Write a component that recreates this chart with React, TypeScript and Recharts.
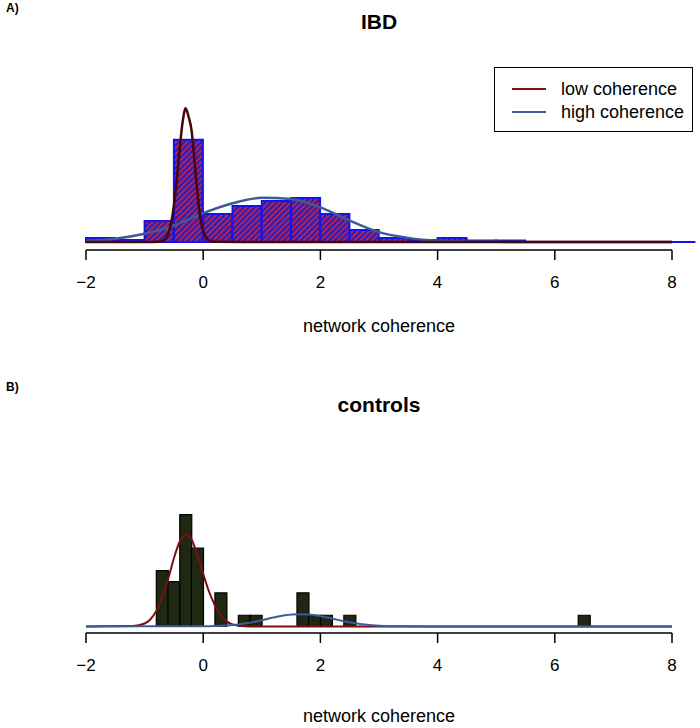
import React from "react";
import { ComposedChart, Bar, Line, XAxis, YAxis, ReferenceLine } from "recharts";

// panel A: IBD histogram (density, bins of 0.5)
const IBD_BIN_LEFT = [-2, -1.5, -1, -0.5, 0, 0.5, 1, 1.5, 2, 2.5, 3, 3.5, 4, 4.5, 5, 5.5, 6, 6.5, 7, 7.5];
const IBD_DENSITY = [0.024, 0.012, 0.127, 0.62, 0.17, 0.218, 0.248, 0.267, 0.17, 0.073, 0.024, 0.012, 0.024, 0.009, 0.009, 0, 0, 0, 0, 0];

const IBD_LOW_X = [-2, -1, -0.75, -0.7, -0.65, -0.6, -0.55, -0.5, -0.45, -0.4, -0.35, -0.3, -0.25, -0.2, -0.15, -0.1, -0.05, 0, 0.05, 0.1, 0.2, 1, 8];
const IBD_LOW_Y = [0, 0, 0.002, 0.006, 0.018, 0.047, 0.11, 0.22, 0.38, 0.57, 0.73, 0.81, 0.76, 0.68, 0.5, 0.3, 0.15, 0.067, 0.027, 0.009, 0.001, 0, 0];
const IBD_HIGH_X = [-2, -1.5, -1, -0.5, 0, 0.5, 1, 1.5, 2, 2.5, 3, 3.5, 4, 4.5, 5, 6, 8];
const IBD_HIGH_Y = [0.006, 0.02, 0.05, 0.1, 0.175, 0.235, 0.268, 0.26, 0.21, 0.13, 0.06, 0.025, 0.008, 0.003, 0.001, 0, 0];

// panel B: controls histogram (counts, bins of 0.2)
const CTRL_BAR_LEFT = [-0.8, -0.6, -0.4, -0.2, 0.2, 0.6, 0.8, 1.6, 1.8, 2.0, 2.4, 6.4];
const CTRL_COUNTS = [5, 4, 10, 7, 3, 1, 1, 3, 1, 1, 1, 1];

const CTRL_LOW_X = [-2, -1.2, -1, -0.9, -0.8, -0.7, -0.6, -0.5, -0.4, -0.3, -0.2, -0.1, 0, 0.1, 0.2, 0.3, 0.4, 0.5, 0.6, 0.8, 8];
const CTRL_LOW_Y = [0, 0.03, 0.26, 0.64, 1.39, 2.6, 4.2, 6.1, 7.6, 8.25, 7.8, 6.4, 4.7, 3.1, 1.9, 1.0, 0.45, 0.18, 0.06, 0, 0];
const CTRL_HIGH_X = [-2, 0, 0.2, 0.4, 0.6, 0.8, 1, 1.2, 1.4, 1.6, 1.8, 2, 2.2, 2.4, 2.6, 2.8, 3, 3.2, 3.5, 4, 8];
const CTRL_HIGH_Y = [0, 0.015, 0.034, 0.084, 0.18, 0.33, 0.55, 0.79, 0.99, 1.09, 1.06, 0.92, 0.7, 0.47, 0.28, 0.14, 0.065, 0.025, 0.006, 0, 0];

const X_TICKS = [-2, 0, 2, 4, 6, 8];

const FONT = '"Liberation Sans", Arial, Helvetica, sans-serif';
const LOW_COLOR = "#7a1010";
const HIGH_COLOR = "#3a5d98";

const ibdBins = IBD_BIN_LEFT.map((b, i) => ({ bin: b, value: IBD_DENSITY[i] }));

// all 50 bins from -2 to 8, empty ones at 0
const ctrlBins = Array.from({ length: 50 }, (_, i) => {
  const left = Math.round((-2 + i * 0.2) * 10) / 10;
  const k = CTRL_BAR_LEFT.findIndex((b) => Math.abs(b - left) < 1e-6);
  return { bin: left, value: k >= 0 ? CTRL_COUNTS[k] : 0 };
});

const toPoints = (xs: number[], ys: number[]) => xs.map((x, i) => ({ x, y: ys[i] }));

function AxisTick(props: any) {
  const { x, y, payload } = props;
  const v = payload.value as number;
  const label = v < 0 ? `\u2212${Math.abs(v)}` : String(v);
  return (
    <text x={x} y={y} dy={26} textAnchor="middle" fontSize={17} fontFamily={FONT} fill="#000">
      {label}
    </text>
  );
}

function Label({ text, cx, cy, size, bold, left }: { text: string; cx?: number; cy: number; size: number; bold?: boolean; left?: number }) {
  return (
    <div
      style={{
        position: "absolute",
        top: cy - 12,
        left: left != null ? left : cx,
        transform: left != null ? undefined : "translateX(-50%)",
        lineHeight: "24px",
        fontSize: size,
        fontWeight: bold ? "bold" : "normal",
        fontFamily: FONT,
        whiteSpace: "nowrap",
        color: "#000",
      }}
    >
      {text}
    </div>
  );
}

function numAxis() {
  return (
    <XAxis
      xAxisId="num"
      type="number"
      dataKey="x"
      domain={[-2, 8]}
      ticks={X_TICKS}
      interval={0}
      allowDataOverflow
      height={60}
      tickSize={10}
      axisLine={{ stroke: "#000", strokeWidth: 1.5 }}
      tickLine={{ stroke: "#000", strokeWidth: 1.5 }}
      tick={<AxisTick />}
    />
  );
}

export default function App() {
  return (
    <div style={{ position: "absolute", left: 0, top: 0, width: 700, height: 728, background: "#fff", fontFamily: FONT }}>
      <Label text="A)" left={6} cy={8} size={12} bold />
      <Label text="IBD" cx={379} cy={22} size={21} bold />
      <Label text="network coherence" cx={379} cy={326} size={18} />
      <Label text="B)" left={6} cy={387} size={12} bold />
      <Label text="controls" cx={379} cy={405} size={21} bold />
      <Label text="network coherence" cx={379} cy={716} size={18} />

      <div style={{ position: "absolute", left: 0, top: 0 }}>
        <ComposedChart
          width={700}
          height={364}
          data={ibdBins}
          margin={{ top: 102, right: 28, bottom: 54, left: 86 }}
          barCategoryGap={0}
          barGap={0}
        >
          <defs>
            <pattern id="hatch" patternUnits="userSpaceOnUse" width="4" height="4" patternTransform="rotate(45)">
              <rect x="0" y="0" width="4" height="4" fill="#2420b8" />
              <rect x="0" y="0" width="1.6" height="4" fill="#d42048" />
            </pattern>
          </defs>
          <XAxis xAxisId="cat" dataKey="bin" type="category" orientation="top" hide />
          {numAxis()}
          <YAxis hide domain={[-0.0485, 0.8485]} allowDataOverflow />
          <Bar xAxisId="cat" dataKey="value" fill="url(#hatch)" stroke="#1414e8" strokeWidth={2} isAnimationActive={false} />
          <ReferenceLine
            xAxisId="num"
            segment={[{ x: 5.5, y: 0 }, { x: 8.4, y: 0 }]}
            stroke="#1414e8"
            strokeWidth={2}
            ifOverflow="visible"
          />
          <Line
            xAxisId="num"
            data={toPoints(IBD_HIGH_X, IBD_HIGH_Y)}
            dataKey="y"
            type="monotone"
            stroke={HIGH_COLOR}
            strokeWidth={2.5}
            dot={false}
            isAnimationActive={false}
          />
          <Line
            xAxisId="num"
            data={toPoints(IBD_LOW_X, IBD_LOW_Y)}
            dataKey="y"
            type="monotone"
            stroke="#4a0606"
            strokeWidth={2.5}
            dot={false}
            isAnimationActive={false}
          />
        </ComposedChart>
      </div>

      <div style={{ position: "absolute", left: 0, top: 364 }}>
        <ComposedChart
          width={700}
          height={364}
          data={ctrlBins}
          margin={{ top: 128, right: 28, bottom: 35, left: 86 }}
          barCategoryGap={0}
          barGap={0}
        >
          <XAxis xAxisId="cat" dataKey="bin" type="category" orientation="top" hide />
          {numAxis()}
          <YAxis hide domain={[-0.59, 12.03]} allowDataOverflow />
          <Bar xAxisId="cat" dataKey="value" fill="#1f2812" stroke="#000" strokeWidth={1.2} isAnimationActive={false} />
          <Line
            xAxisId="num"
            data={toPoints(CTRL_LOW_X, CTRL_LOW_Y)}
            dataKey="y"
            type="monotone"
            stroke={LOW_COLOR}
            strokeWidth={2}
            dot={false}
            isAnimationActive={false}
          />
          <Line
            xAxisId="num"
            data={toPoints(CTRL_HIGH_X, CTRL_HIGH_Y)}
            dataKey="y"
            type="monotone"
            stroke={HIGH_COLOR}
            strokeWidth={2}
            dot={false}
            isAnimationActive={false}
          />
        </ComposedChart>
      </div>

      {/* legend box */}
      <div
        style={{
          position: "absolute",
          left: 494,
          top: 67,
          width: 199,
          height: 65,
          border: "1.5px solid #000",
          boxSizing: "border-box",
          background: "#fff",
        }}
      >
        {[
          { name: "low coherence", color: LOW_COLOR, y: 21 },
          { name: "high coherence", color: HIGH_COLOR, y: 44 },
        ].map((it) => (
          <div key={it.name}>
            <div style={{ position: "absolute", left: 17, top: it.y - 1, width: 34, height: 2, background: it.color }} />
            <div
              style={{
                position: "absolute",
                left: 66,
                top: it.y - 11,
                lineHeight: "22px",
                fontSize: 18,
                fontFamily: FONT,
                whiteSpace: "nowrap",
              }}
            >
              {it.name}
            </div>
          </div>
        ))}
      </div>
    </div>
  );
}
